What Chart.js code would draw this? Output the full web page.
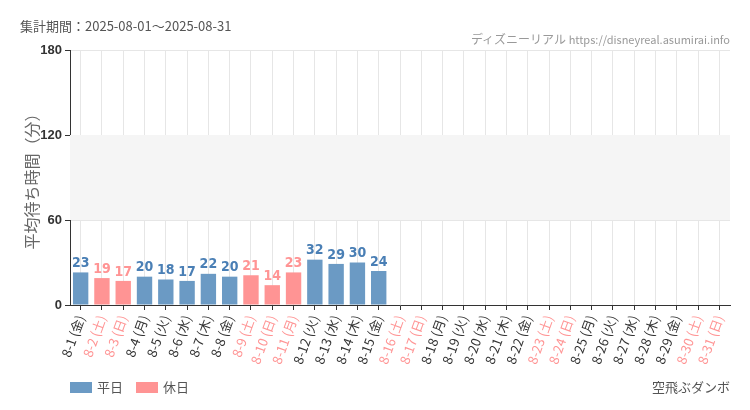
<!DOCTYPE html>
<html><head><meta charset="utf-8">
<script src="https://cdn.jsdelivr.net/npm/chart.js@4"></script>
<style>
body{margin:0;background:#fff;font-family:"Noto Sans CJK JP","Noto Sans",sans-serif;}
#wrap{position:relative;width:750px;height:410px;}
.t{position:absolute;color:#555;font-size:13px;}
.leg{position:absolute;top:377px;font-size:13px;color:#555;}
.sw{display:inline-block;width:22px;height:11px;vertical-align:-1px;margin-right:5px;}
</style></head><body>
<div id="wrap">
<canvas id="c" width="750" height="410"></canvas>
<div class="t" style="left:20px;top:16px;">集計期間：2025-08-01～2025-08-31</div>
<div class="t" style="right:20px;top:30px;color:#999;font-size:12px;">ディズニーリアル <span style="font-size:11px">https://disneyreal.asumirai.info</span></div>
<div class="leg" style="left:70px;"><span class="sw" style="background:#6b9ac4"></span>平日</div>
<div class="leg" style="left:136px;"><span class="sw" style="background:#ff9494"></span>休日</div>
<div class="t" style="right:20px;top:377px;">空飛ぶダンボ</div>
</div>
<script>
const WEEKDAYS = ["金","土","日","月","火","水","木"];
const HOLIDAYS = [2,3,9,10,11,16,17,23,24,30,31];
const DAYS = Array.from({length:31},(_,i)=>i+1);
const labels = DAYS.map((d,i)=>`8-${d} (${WEEKDAYS[i%7]})`);
const waits = [23,19,17,20,18,17,22,20,21,14,23,32,29,30,24];

const BLUE = "#6b9ac4", PINK = "#ff9494";
const isHol = i => HOLIDAYS.includes(i+1);

const extras = {
  id: "extras",
  beforeDatasetsDraw(chart) {
    const {ctx, chartArea:a, scales:{y}} = chart;
    ctx.save();
    ctx.fillStyle = "#f5f5f5";
    ctx.fillRect(a.left, y.getPixelForValue(120), a.right-a.left, y.getPixelForValue(60)-y.getPixelForValue(120));
    ctx.restore();
  },
  afterDatasetsDraw(chart) {
    const {ctx} = chart;
    ctx.save();
    ctx.font = "bold 14px 'Liberation Sans Narrow','DejaVu Sans Condensed',sans-serif";
    ctx.textAlign = "center"; ctx.textBaseline = "bottom";
    chart.getDatasetMeta(0).data.forEach((b,i)=>{
      if (waits[i] == null) return;
      ctx.fillStyle = isHol(i) ? PINK : "#4a7fb5";
      ctx.fillText(waits[i], b.x, b.y-2);
    });
    ctx.restore();
  }
};

new Chart(document.getElementById("c"), {
  type: "bar",
  data: { labels, datasets: [{
    data: waits,
    backgroundColor: labels.map((_,i)=>isHol(i)?PINK:BLUE),
    categoryPercentage: 0.85, barPercentage: 0.85
  }]},
  options: {
    responsive: false, animation: false,
    layout: { padding: { top: 50, right: 20, left: 0, bottom: 0 } },
    plugins: { legend: {display:false}, tooltip: {enabled:false} },
    scales: {
      x: {
        afterFit(s){ s.height = 105; },
        grid: { color: "#e6e6e6", offset: false, tickLength: 5, tickColor:"#333" },
        border: { color: "#333" },
        ticks: { minRotation: 70, maxRotation: 70, autoSkip: false,
          font: { size: 13, family: "'Noto Sans CJK JP',sans-serif" },
          color: c => isHol(c.index) ? PINK : "#333" }
      },
      y: {
        min: 0, max: 180,
        afterFit(s){ s.width = 70; },
        afterBuildTicks(s){ s.ticks = [0,60,120,180].map(v=>({value:v})); },
        grid: { color: "#e6e6e6", tickLength: 5, tickColor:"#333" },
        border: { color: "#333" },
        ticks: { color: "#333", font: { size: 13, weight: "bold", family: "'Liberation Sans',sans-serif" } },
        title: { display: true, text: "平均待ち時間（分）", color: "#666",
          font: { size: 16, family: "'Noto Sans CJK JP',sans-serif" }, padding: { top: 22, bottom: 0 } }
      }
    }
  },
  plugins: [extras]
});
</script>
</body></html>
